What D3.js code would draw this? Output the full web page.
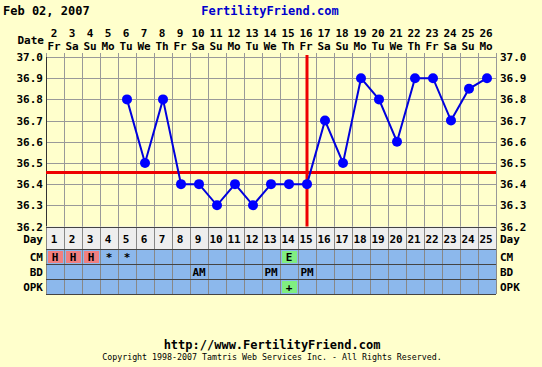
<!DOCTYPE html>
<html><head><meta charset="utf-8">
<script src="https://cdn.jsdelivr.net/npm/d3@7"></script>
<style>
html,body{margin:0;padding:0;background:#ffffcc;}
svg{display:block;}
text{font-family:"DejaVu Sans Mono",monospace;font-weight:bold;}
</style></head><body>
<svg id="c" width="542" height="367"></svg>
<script>
const cycleDays = d3.range(1, 26);
const dateNums = [2,3,4,5,6,7,8,9,10,11,12,13,14,15,16,17,18,19,20,21,22,23,24,25,26];
const weekdays = ["Fr","Sa","Su","Mo","Tu","We","Th","Fr","Sa","Su","Mo","Tu","We","Th","Fr","Sa","Su","Mo","Tu","We","Th","Fr","Sa","Su","Mo"];
const tempDays = [5,6,7,8,9,10,11,12,13,14,15,16,17,18,19,20,21,22,23,24,25];
const temps = [36.8,36.5,36.8,36.4,36.4,36.3,36.4,36.3,36.4,36.4,36.4,36.7,36.5,36.9,36.8,36.6,36.9,36.9,36.7,36.85,36.9];
const tempTicks = [36.2,36.3,36.4,36.5,36.6,36.7,36.8,36.9,37.0];
const coverline = 36.455;
const ovulationDay = 15;
const cmEntries = [{day:1,v:"H",c:"#f08080"},{day:2,v:"H",c:"#f08080"},{day:3,v:"H",c:"#f08080"},{day:4,v:"*",c:null},{day:5,v:"*",c:null},{day:14,v:"E",c:"#80ee80"}];
const bdEntries = [{day:9,v:"AM"},{day:13,v:"PM"},{day:15,v:"PM"}];
const opkEntries = [{day:14,v:"+",c:"#80ee80"}];
const rowLabels = ["CM","BD","OPK"];

const svg = d3.select("#c");
const L = 46, R = 496, T = 57, B = 226.5;
const x = d3.scaleBand().domain(cycleDays).range([L, R]);
const y = d3.scaleLinear().domain([36.2, 37.0]).range([B, T]);
const cx = d => x(d) + x.bandwidth()/2;

svg.append("rect").attr("width",542).attr("height",367).attr("fill","#ffffcc");

// header texts
svg.append("text").attr("x",3).attr("y",15).attr("font-size",12).attr("fill","#000").text("Feb 02, 2007");
svg.append("text").attr("x",270).attr("y",15).attr("font-size",12).attr("text-anchor","middle").attr("fill","#0000cc").text("FertilityFriend.com");
svg.append("text").attr("x",44).attr("y",44).attr("font-size",11).attr("text-anchor","end").text("Date");

const hdr = svg.append("g");
hdr.selectAll("text.dn").data(cycleDays).join("text").attr("class","dn")
  .attr("x",d=>cx(d)-1).attr("y",37).attr("font-size",11).attr("text-anchor","middle")
  .text((d,i)=>dateNums[i]);
hdr.selectAll("text.wd").data(cycleDays).join("text").attr("class","wd")
  .attr("x",d=>cx(d)-1).attr("y",50).attr("font-size",11).attr("text-anchor","middle")
  .text((d,i)=>weekdays[i]);

// grid
const grid = svg.append("g").attr("stroke","#999").attr("stroke-width",1);
grid.selectAll("line.v").data(d3.range(0,26)).join("line")
  .attr("x1",i=>Math.round(L+i*x.bandwidth())+0.5).attr("x2",i=>Math.round(L+i*x.bandwidth())+0.5)
  .attr("y1",T-4).attr("y2",B);
grid.selectAll("line.h").data(tempTicks).join("line")
  .attr("x1",L).attr("x2",R).attr("y1",d=>Math.round(y(d))+0.5).attr("y2",d=>Math.round(y(d))+0.5);
svg.append("line").attr("x1",L+0.5).attr("x2",L+0.5).attr("y1",T).attr("y2",B).attr("stroke","#333");

// axes labels
const yl = d3.axisLeft(y).tickValues(tempTicks).tickFormat(d3.format(".1f")).tickSize(0).tickPadding(3);
const gl = svg.append("g").attr("transform",`translate(${L},0)`).call(yl);
const yr = d3.axisRight(y).tickValues(tempTicks).tickFormat(d3.format(".1f")).tickSize(0).tickPadding(4);
const gr = svg.append("g").attr("transform",`translate(${R},0)`).call(yr);
[gl,gr].forEach(g=>{g.select(".domain").remove(); g.selectAll("text").attr("font-size",11).attr("font-family","DejaVu Sans Mono").attr("font-weight","bold").attr("fill","#000");});

// table
const dayTop = B, dayBot = 249, rowH = 15;
const tbl = svg.append("g");
tbl.append("rect").attr("x",L).attr("y",dayTop).attr("width",R-L).attr("height",dayBot-dayTop).attr("fill","#eeeeee");
tbl.append("rect").attr("x",L).attr("y",dayBot).attr("width",R-L).attr("height",rowH*3).attr("fill","#8cb8ec");
tbl.selectAll("text.day").data(cycleDays).join("text").attr("x",d=>cx(d)-1).attr("y",243).attr("font-size",11).attr("text-anchor","middle").text(d=>d);
const rowTop = i => dayBot + i*rowH;
// colored cells
const cell = (entries,row)=>{
  tbl.selectAll(null).data(entries.filter(e=>e.c)).join("rect")
    .attr("x",e=>x(e.day)+2).attr("y",rowTop(row)+2).attr("width",x.bandwidth()-3).attr("height",rowH-3).attr("fill",e=>e.c);
  tbl.selectAll(null).data(entries).join("text")
    .attr("x",e=>cx(e.day)).attr("y",rowTop(row)+11.5).attr("font-size",11).attr("text-anchor","middle").text(e=>e.v);
};
cell(cmEntries,0); cell(bdEntries,1); cell(opkEntries,2);
// table lines
tbl.selectAll("line.tv").data(d3.range(0,26)).join("line")
  .attr("x1",i=>Math.round(L+i*x.bandwidth())+0.5).attr("x2",i=>Math.round(L+i*x.bandwidth())+0.5)
  .attr("y1",dayTop).attr("y2",rowTop(3)).attr("stroke","#888");
tbl.selectAll("line.th").data([dayTop,dayBot,rowTop(1),rowTop(2),rowTop(3)]).join("line")
  .attr("x1",L).attr("x2",R).attr("y1",d=>Math.round(d)+0.5).attr("y2",d=>Math.round(d)+0.5).attr("stroke","#444");
svg.append("text").attr("x",43).attr("y",243).attr("font-size",11).attr("text-anchor","end").text("Day");
svg.append("text").attr("x",500).attr("y",243).attr("font-size",11).text("Day");
rowLabels.forEach((r,i)=>{
  svg.append("text").attr("x",43).attr("y",rowTop(i)+11.5).attr("font-size",11).attr("text-anchor","end").text(r);
  svg.append("text").attr("x",500).attr("y",rowTop(i)+11.5).attr("font-size",11).text(r);
});

// red lines
svg.append("line").attr("x1",L).attr("x2",R).attr("y1",y(coverline)).attr("y2",y(coverline)).attr("stroke","#ee0000").attr("stroke-width",3);
svg.append("line").attr("x1",cx(ovulationDay)).attr("x2",cx(ovulationDay)).attr("y1",T-2).attr("y2",B).attr("stroke","#ee0000").attr("stroke-width",3);

// temperature line
const pts = tempDays.map((d,i)=>[cx(d),y(temps[i])]);
svg.append("path").attr("d",d3.line()(pts)).attr("fill","none").attr("stroke","#0000dd").attr("stroke-width",2);
svg.selectAll("circle.t").data(pts).join("circle").attr("cx",p=>p[0]).attr("cy",p=>p[1]).attr("r",5).attr("fill","#0000ff");

// footer
svg.append("text").attr("x",272).attr("y",349).attr("font-size",12).attr("text-anchor","middle").text("http://www.FertilityFriend.com");
svg.append("text").attr("x",272).attr("y",360).attr("font-size",8.3).style("font-weight","normal").attr("text-anchor","middle").text("Copyright 1998-2007 Tamtris Web Services Inc. - All Rights Reserved.");
</script></body></html>
